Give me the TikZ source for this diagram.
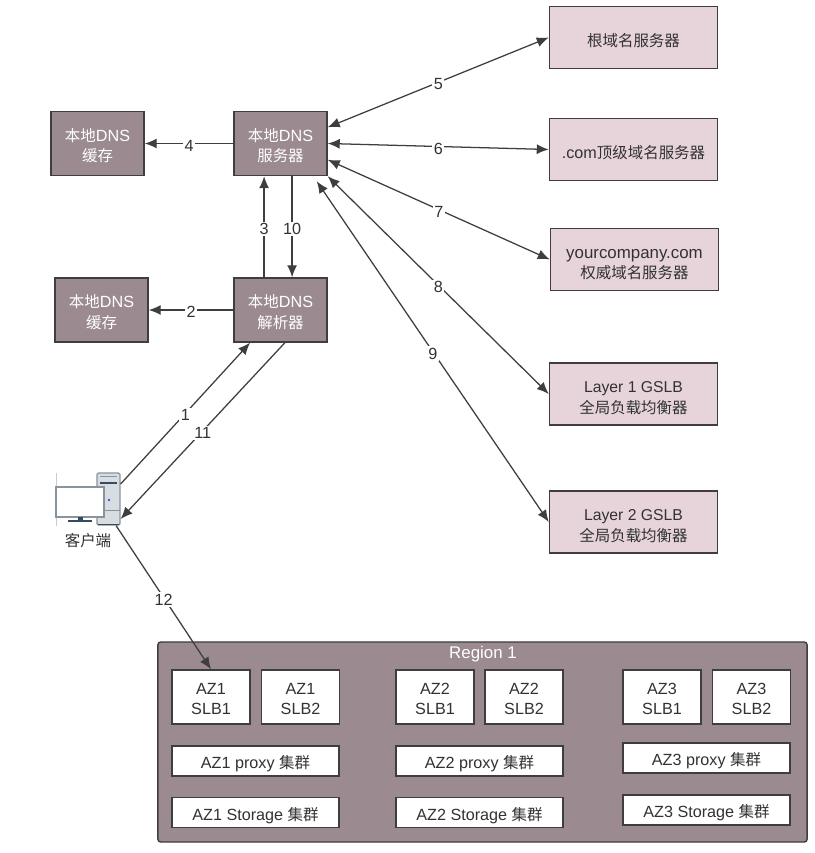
\documentclass[tikz,border=0pt]{standalone}
\usepackage{fontspec}
\setmainfont{Liberation Sans}
\newfontfamily\cjk{Noto Sans CJK SC}
\newcommand{\zh}[1]{{\fontsize{11}{14.5}\selectfont\cjk #1}}
\usepackage{tikz}
\usetikzlibrary{arrows.meta, positioning}
\definecolor{mauvefill}{RGB}{155,138,143}
\definecolor{pinkfill}{RGB}{231,212,219}
\definecolor{edgegray}{RGB}{62,62,62}
\definecolor{textgray}{RGB}{50,50,50}
\definecolor{iconblue}{RGB}{135,148,160}
\definecolor{iconfill}{RGB}{216,221,226}
\definecolor{icondark}{RGB}{55,75,95}

\begin{document}
\begin{tikzpicture}[
    x=0.025cm, y=-0.025cm,
    font=\fontsize{11.5}{14.5}\selectfont,
    base/.style={rectangle, draw=edgegray, line width=1pt, align=center, inner sep=0pt, execute at begin node={\rule{0pt}{13.5pt}}},
    darkbox/.style={base, fill=mauvefill, text=white, minimum width=2.325cm, minimum height=1.6cm, execute at begin node={\rule{0pt}{27pt}}},
    pinkbox/.style={base, fill=pinkfill, text=textgray, minimum width=4.2cm, minimum height=1.55cm},
    pinktwo/.style={pinkbox, execute at begin node={\rule{0pt}{28pt}}},
    slbbox/.style={base, fill=white, text=textgray, minimum width=1.95cm, minimum height=1.35cm, execute at begin node={\rule{0pt}{25pt}}},
    widebox/.style={base, fill=white, text=textgray, minimum width=4.175cm, minimum height=0.75cm},
    arrow/.style={-{Latex[length=0.3cm,width=0.25cm]}, draw=edgegray, line width=0.9pt},
    biarrow/.style={{Latex[length=0.3cm,width=0.25cm]}-{Latex[length=0.3cm,width=0.25cm]}, draw=edgegray, line width=0.9pt},
    tag/.style={midway, yshift=-0.05cm, fill=white, text=textgray, inner sep=1pt}
]
    \useasboundingbox (0,0) rectangle (814,853);

    % DNS servers on the right
    \node[pinkbox] (root) at (633.5,37.5) {\zh{根域名服务器}};
    \node[pinkbox] (com) at (633.5,149.5) {.com\zh{顶级域名服务器}};
    \node[pinktwo, font=\fontsize{12}{14.5}\selectfont] (company) at (634.5,259.5) {yourcompany.com\\\zh{权威域名服务器}};
    \node[pinktwo, font=\fontsize{11.2}{14.5}\selectfont] (gslbone) at (633.5,394) {Layer 1 GSLB\\\zh{全局负载均衡器}};
    \node[pinktwo, font=\fontsize{11.2}{14.5}\selectfont] (gslbtwo) at (633.5,522) {Layer 2 GSLB\\\zh{全局负载均衡器}};

    % Local DNS
    \node[darkbox] (cacheup) at (97.5,143.5) {\zh{本地}DNS\\\zh{缓存}};
    \node[darkbox] (server) at (280.5,143.5) {\zh{本地}DNS\\\zh{服务器}};
    \node[darkbox] (cachedown) at (101.5,310) {\zh{本地}DNS\\\zh{缓存}};
    \node[darkbox] (resolver) at (280.5,310) {\zh{本地}DNS\\\zh{解析器}};

    % Client icon
    \draw[gray!40, line width=0.6pt] (56,473) -- (56,526);
    \node[rectangle, rounded corners=1pt, draw=iconblue, fill=iconfill, line width=0.9pt, minimum width=0.575cm, minimum height=1.3cm, inner sep=0pt] (tower) at (108.5,499) {};
    \draw[iconblue, line width=0.8pt] (100,476.5) -- (117,476.5);
    \draw[icondark, line width=1.4pt] (100,483) -- (117,483);
    \draw[iconblue, line width=0.6pt] (97,510) -- (120,510);
    \draw[icondark, line width=1.4pt] (98,524.5) -- (119,524.5);
    \fill[blue!70!white] (109,500) circle (1.3);
    \node[rectangle, draw=iconblue, fill=white, line width=0.9pt, minimum width=1.2cm, minimum height=0.75cm, inner sep=0pt] (screen) at (80,502) {};
    \fill[icondark] (78,517) rectangle (83,521);
    \draw[icondark, line width=1pt] (68,521) -- (92,521);
    \node[text=textgray] (clientname) at (88,541) {\zh{客户端}};

    % Region
    \node[base, fill=mauvefill, rounded corners=2pt, minimum width=16.225cm, minimum height=5cm] (region) at (482.5,742) {};
    \node[text=white, font=\fontsize{12}{14.5}\selectfont] (regionname) at (483,654.5) {Region 1};

    \node[slbbox] (slbaa) at (211,697) {AZ1\\SLB1};
    \node[slbbox] (slbab) at (300.5,697) {AZ1\\SLB2};
    \node[widebox] (proxya) at (255.5,761) {AZ1 proxy \zh{集群}};
    \node[widebox] (storea) at (255.5,812.5) {AZ1 Storage \zh{集群}};

    \node[slbbox] (slbba) at (435,697) {AZ2\\SLB1};
    \node[slbbox] (slbbb) at (524,697) {AZ2\\SLB2};
    \node[widebox] (proxyb) at (479.5,761) {AZ2 proxy \zh{集群}};
    \node[widebox] (storeb) at (479.5,812.5) {AZ2 Storage \zh{集群}};

    \node[slbbox] (slbca) at (662,697) {AZ3\\SLB1};
    \node[slbbox] (slbcb) at (751.5,697) {AZ3\\SLB2};
    \node[widebox] (proxyc) at (706.5,758) {AZ3 proxy \zh{集群}};
    \node[widebox] (storec) at (706.5,810) {AZ3 Storage \zh{集群}};

    % Arrows
    \draw[arrow] ([yshift=0.375cm]tower.east) -- ([xshift=-0.76cm]resolver.south) node[tag] {1};
    \draw[arrow] (resolver.west) -- (cachedown.east) node[tag] {2};
    \draw[arrow] ([xshift=-0.41cm]resolver.north) -- ([xshift=-0.41cm]server.south) node[tag] {3};
    \draw[arrow] (server.west) -- (cacheup.east) node[tag] {4};
    \draw[biarrow] (server.19.5) -- (root.west) node[tag] {5};
    \draw[biarrow] (server.east) -- (com.west) node[tag] {6};
    \draw[biarrow] (server.-19.5) -- (company.west) node[tag] {7};
    \draw[biarrow] (server.south east) -- (gslbone.west) node[tag] {8};
    \draw[biarrow] ([shift={(-0.275cm,-0.125cm)}]server.south east) -- (gslbtwo.west) node[tag] {9};
    \draw[arrow] ([xshift=0.29cm]server.south) -- ([xshift=0.29cm]resolver.north) node[tag] {10};
    \draw[arrow] ([xshift=0.11cm]resolver.south) -- ([yshift=-0.5cm]tower.east) node[tag] {11};
    \draw[arrow] ([xshift=0.19cm]tower.south) -- (slbaa.north) node[tag] {12};
\end{tikzpicture}
\end{document}
